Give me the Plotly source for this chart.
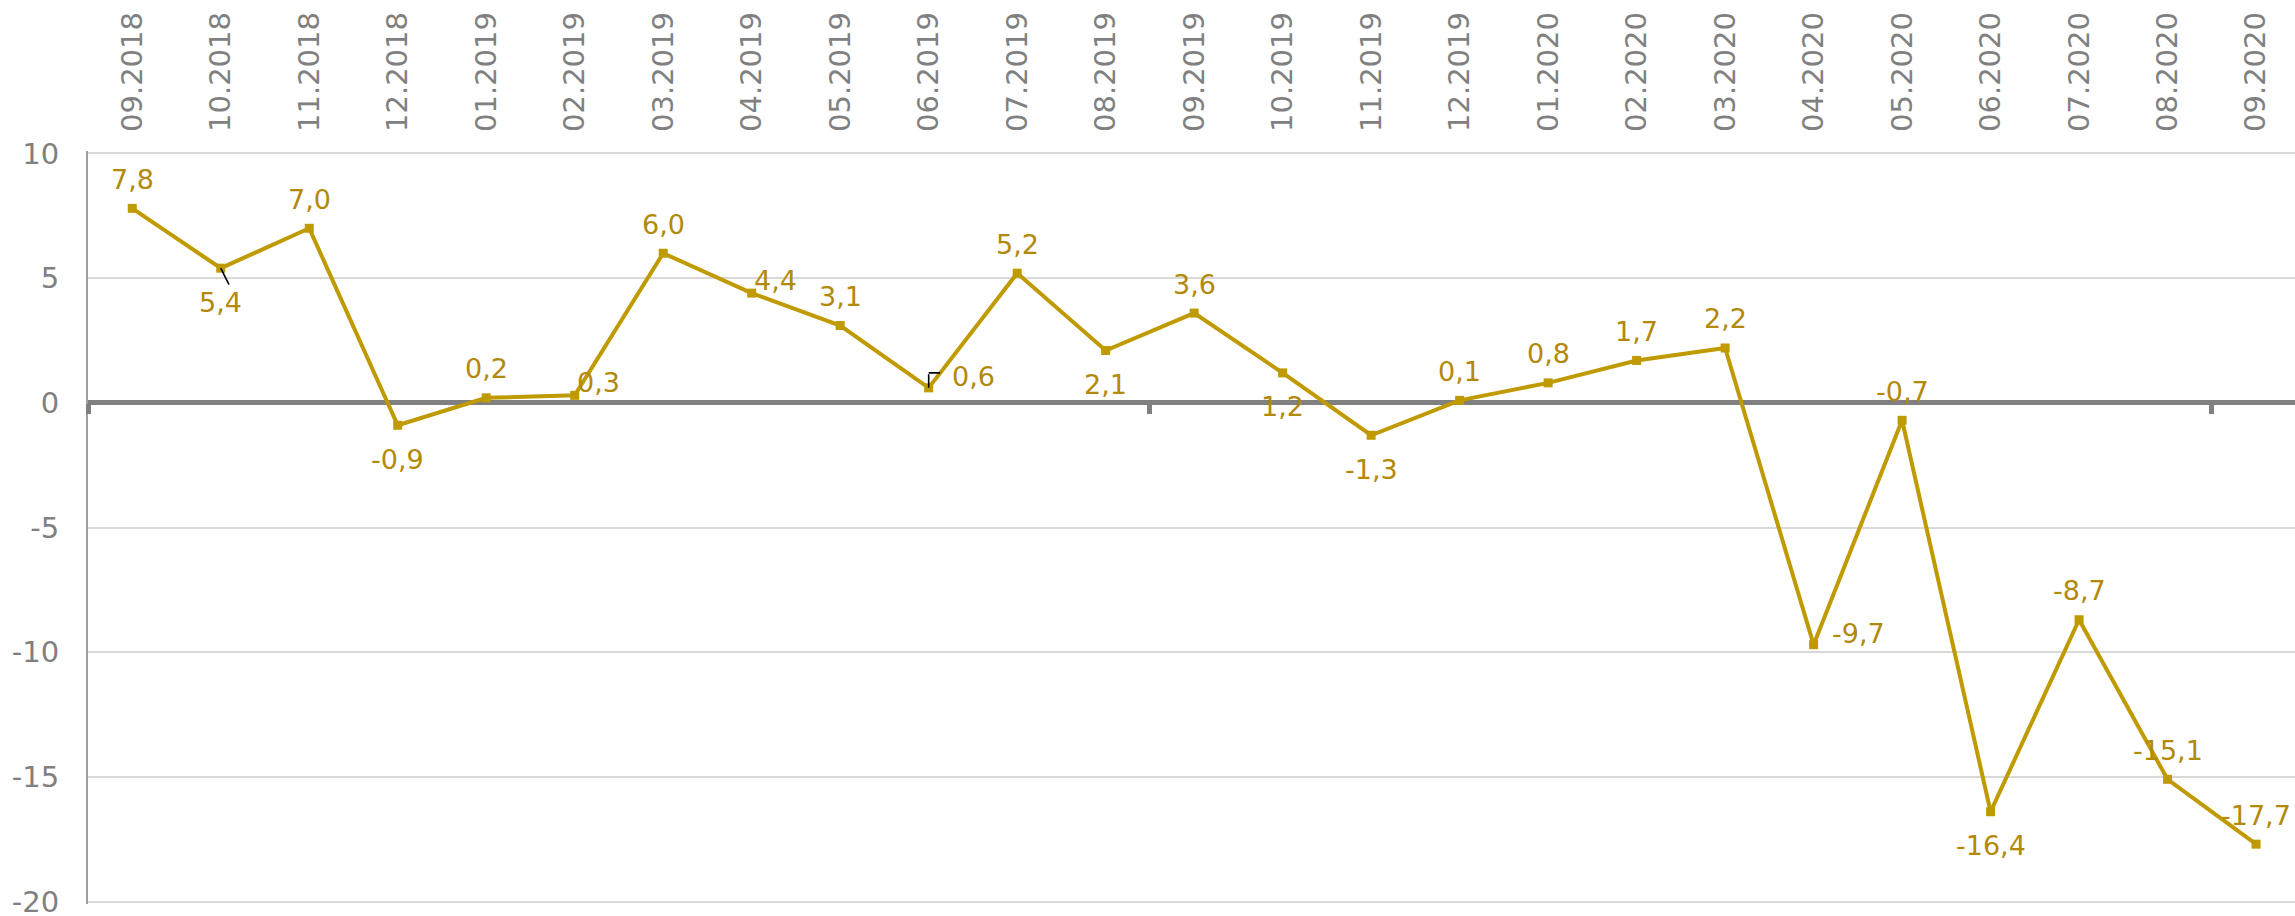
import plotly.graph_objects as go

# ---- data ----
categories = ["09.2018", "10.2018", "11.2018", "12.2018", "01.2019", "02.2019", "03.2019",
              "04.2019", "05.2019", "06.2019", "07.2019", "08.2019", "09.2019", "10.2019",
              "11.2019", "12.2019", "01.2020", "02.2020", "03.2020", "04.2020", "05.2020",
              "06.2020", "07.2020", "08.2020", "09.2020"]
values = [7.8, 5.4, 7.0, -0.9, 0.2, 0.3, 6.0, 4.4, 3.1, 0.6, 5.2, 2.1, 3.6, 1.2, -1.3,
          0.1, 0.8, 1.7, 2.2, -9.7, -0.7, -16.4, -8.7, -15.1, -17.7]
y_ticks = [-20, -15, -10, -5, 0, 5, 10]
y_tick_labels = [str(v) for v in y_ticks]

# ---- styling (label placement like the original data labels) ----
label_pos = ["above", "below", "above", "below", "above", "aboveright", "above",
             "aboveright", "above", "right", "above", "below", "above", "below", "below",
             "above", "above", "above", "above", "right", "above", "below", "above",
             "above", "above"]
shift = {"above": (0, 29), "below": (0, -34), "right": (45, 11), "aboveright": (24, 13)}

LINE = "#BF9A00"
TEXT = "#B3890A"
GRAY = "#808080"
FONT = "DejaVu Sans"

x_idx = list(range(len(categories)))
y_min, y_max = min(y_ticks), max(y_ticks)
y_pad = 0.1
y_range = [y_min - y_pad, y_max + y_pad]
x_range = [-0.5, len(categories) - 0.56]

fig = go.Figure()
fig.add_trace(go.Scatter(
    x=x_idx, y=values, mode="lines+markers",
    line=dict(color=LINE, width=4),
    marker=dict(symbol="square", size=9, color=LINE),
    hoverinfo="skip", showlegend=False, cliponaxis=False,
))
# invisible trace carrying the axis that sits on the zero line
fig.add_trace(go.Scatter(
    x=x_idx, y=values, xaxis="x2", mode="lines", line=dict(width=0),
    opacity=0, hoverinfo="skip", showlegend=False,
))

annotations = []
for i, v in enumerate(values):
    dx, dy = shift[label_pos[i]]
    annotations.append(dict(
        x=i, y=v, xref="x", yref="y", text=f"{v:.1f}".replace(".", ","),
        showarrow=False, xshift=dx, yshift=dy,
        font=dict(family=FONT, size=27, color=TEXT),
    ))

# leader lines (as in the original)
annotations.append(dict(x=1, y=values[1], xref="x", yref="y", text="", showarrow=True,
                        ax=9, ay=18, arrowhead=0, arrowwidth=1.6, arrowcolor="black"))
annotations.append(dict(x=9, y=values[9], xref="x", yref="y", text="", showarrow=True,
                        ax=0, ay=-15, arrowhead=0, arrowwidth=1.6, arrowcolor="black"))
annotations.append(dict(x=9, y=values[9], xref="x", yref="y", text="", showarrow=True,
                        yshift=15, ax=13, ay=0, arrowhead=0, arrowwidth=1.6,
                        arrowcolor="black"))

fig.update_layout(
    template="none",
    width=2295, height=916,
    margin=dict(l=88, r=0, t=151, b=12, autoexpand=False),
    paper_bgcolor="white", plot_bgcolor="white",
    font=dict(family=FONT, color=GRAY, size=29),
    annotations=annotations,
    xaxis=dict(
        range=x_range, tickmode="array", tickvals=x_idx, ticktext=categories,
        side="top", tickangle=-90, ticks="", ticklabelstandoff=18,
        showgrid=False, zeroline=False, showline=False, automargin=False,
        tickfont=dict(family=FONT, size=29, color=GRAY),
    ),
    xaxis2=dict(
        range=x_range, overlaying="x", anchor="free",
        position=(0 - y_range[0]) / (y_range[1] - y_range[0]), side="bottom",
        tickmode="array", tickvals=[i - 0.5 for i in range(0, len(categories), 12)],
        ticks="outside", ticklen=10, tickwidth=5, tickcolor=GRAY,
        showticklabels=False, showgrid=False, zeroline=False, showline=False,
        automargin=False,
    ),
    yaxis=dict(
        range=y_range, tickmode="array", tickvals=y_ticks,
        ticktext=y_tick_labels, ticks="", ticklabelstandoff=21,
        ticklabeloverflow="allow",
        showgrid=True, gridcolor="#D9D9D9", gridwidth=2,
        zeroline=True, zerolinecolor=GRAY, zerolinewidth=5,
        showline=True, linecolor="#A0A0A0", linewidth=2, automargin=False,
        tickfont=dict(family=FONT, size=29, color=GRAY),
    ),
)

fig.write_html("out.html", config={"displayModeBar": False},
               post_script="document.body.style.margin='0';")
